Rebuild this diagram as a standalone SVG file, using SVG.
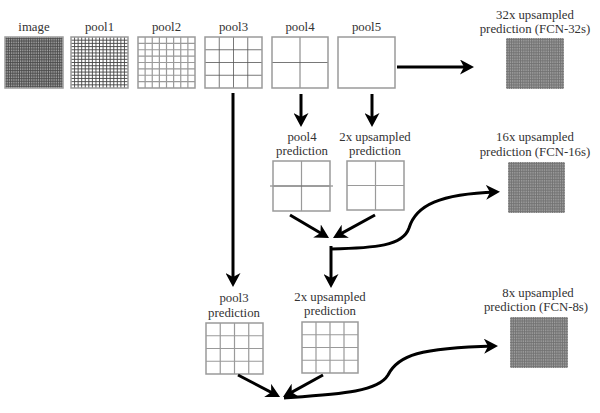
<svg xmlns="http://www.w3.org/2000/svg" xmlns:xlink="http://www.w3.org/1999/xlink" width="600" height="413" viewBox="0 0 600 413">
<style>
text{font-size:12.8px;fill:#333;text-anchor:middle}
.bx{fill:none;stroke:#9a9a9a;stroke-width:1.5}
.gl{fill:none;vector-effect:non-scaling-stroke}
.dense{stroke:#4a4a4a;stroke-width:0.9}
.up{stroke:#707070;stroke-width:0.9}
.dk{stroke:#444;stroke-width:0.9}
.gr{stroke:#9a9a9a;stroke-width:1.2}
.th{stroke:#555;stroke-width:0.8}
.ar{fill:none;stroke:#000;stroke-width:3;marker-end:url(#ah)}
</style>
<defs>
<marker id="ah" markerUnits="userSpaceOnUse" viewBox="0 0 15 15" markerWidth="15" markerHeight="15" refX="10" refY="7.5" orient="auto"><path d="M0,0 L14,7.5 L0,15 L4,7.5 Z" fill="#000"/></marker>
<symbol id="g2" viewBox="0 0 2 2" preserveAspectRatio="none"><path class="gl" d="M1 0V2M0 1H2"/></symbol>
<symbol id="g4" viewBox="0 0 4 4" preserveAspectRatio="none"><path class="gl" d="M1 0V4M2 0V4M3 0V4M0 1H4M0 2H4M0 3H4"/></symbol>
<symbol id="g8" viewBox="0 0 8 8" preserveAspectRatio="none"><path class="gl" d="M1 0V8M2 0V8M3 0V8M4 0V8M5 0V8M6 0V8M7 0V8M0 1H8M0 2H8M0 3H8M0 4H8M0 5H8M0 6H8M0 7H8"/></symbol>
<symbol id="g16" viewBox="0 0 16 16" preserveAspectRatio="none"><path class="gl" d="M1 0V16M2 0V16M3 0V16M4 0V16M5 0V16M6 0V16M7 0V16M8 0V16M9 0V16M10 0V16M11 0V16M12 0V16M13 0V16M14 0V16M15 0V16M0 1H16M0 2H16M0 3H16M0 4H16M0 5H16M0 6H16M0 7H16M0 8H16M0 9H16M0 10H16M0 11H16M0 12H16M0 13H16M0 14H16M0 15H16"/></symbol>
<symbol id="g32" viewBox="0 0 32 32" preserveAspectRatio="none"><path class="gl" d="M1 0V32M2 0V32M3 0V32M4 0V32M5 0V32M6 0V32M7 0V32M8 0V32M9 0V32M10 0V32M11 0V32M12 0V32M13 0V32M14 0V32M15 0V32M16 0V32M17 0V32M18 0V32M19 0V32M20 0V32M21 0V32M22 0V32M23 0V32M24 0V32M25 0V32M26 0V32M27 0V32M28 0V32M29 0V32M30 0V32M31 0V32M0 1H32M0 2H32M0 3H32M0 4H32M0 5H32M0 6H32M0 7H32M0 8H32M0 9H32M0 10H32M0 11H32M0 12H32M0 13H32M0 14H32M0 15H32M0 16H32M0 17H32M0 18H32M0 19H32M0 20H32M0 21H32M0 22H32M0 23H32M0 24H32M0 25H32M0 26H32M0 27H32M0 28H32M0 29H32M0 30H32M0 31H32"/></symbol>
</defs>
<rect width="600" height="413" fill="#fff"/>
<g font-family="'Liberation Serif', 'Times New Roman', 'DejaVu Serif', serif">
<g id="image">
<text x="34" y="31">image</text>
<rect x="5" y="37" width="58" height="51" fill="#e8e8e8"/>
<use xlink:href="#g32" href="#g32" x="5" y="37" width="58" height="51" class="dense"/>
<rect class="bx" x="5" y="37" width="58" height="51"/>
</g>
<g id="pool1">
<text x="99.5" y="31">pool1</text>
<use xlink:href="#g16" href="#g16" x="71" y="37" width="57" height="51" class="dk"/>
<rect class="bx" x="71" y="37" width="57" height="51"/>
</g>
<g id="pool2">
<text x="166.5" y="31">pool2</text>
<use xlink:href="#g8" href="#g8" x="138" y="37" width="57" height="51" class="gr"/>
<rect class="bx" x="138" y="37" width="57" height="51"/>
</g>
<g id="pool3">
<text x="233.5" y="31">pool3</text>
<use xlink:href="#g4" href="#g4" x="205" y="37" width="57" height="51" class="th"/>
<rect class="bx" x="205" y="37" width="57" height="51"/>
</g>
<g id="pool4">
<text x="300" y="31">pool4</text>
<use xlink:href="#g2" href="#g2" x="272" y="37" width="56" height="51" class="th"/>
<rect class="bx" x="272" y="37" width="56" height="51"/>
</g>
<g id="pool5">
<text x="366.5" y="31">pool5</text>
<rect class="bx" x="338" y="37" width="57" height="51"/>
</g>

<g id="up32">
<text x="535" y="19">32x upsampled</text>
<text x="535" y="33">prediction (FCN-32s)</text>
<rect x="506" y="38" width="58" height="51" fill="#c4c4c4"/>
<use xlink:href="#g32" href="#g32" x="506" y="38" width="58" height="51" class="up"/>
</g>

<g id="pool4pred">
<text x="302" y="141">pool4</text>
<text x="302" y="155">prediction</text>
<use xlink:href="#g2" href="#g2" x="273" y="161" width="57" height="50" class="gr"/>
<path d="M270,186 H333" stroke="#555" stroke-width="0.8"/>
<rect class="bx" x="273" y="161" width="57" height="50"/>
</g>
<g id="up2a">
<text x="375" y="141">2x upsampled</text>
<text x="375" y="155">prediction</text>
<use xlink:href="#g2" href="#g2" x="347" y="161" width="57" height="49" class="gr"/>
<rect class="bx" x="347" y="161" width="57" height="49"/>
</g>

<g id="up16">
<text x="535" y="141">16x upsampled</text>
<text x="535" y="156">prediction (FCN-16s)</text>
<rect x="508" y="162" width="57" height="51" fill="#c4c4c4"/>
<use xlink:href="#g32" href="#g32" x="508" y="162" width="57" height="51" class="up"/>
</g>

<g id="pool3pred">
<text x="234" y="302">pool3</text>
<text x="234" y="317">prediction</text>
<use xlink:href="#g4" href="#g4" x="206" y="323" width="57" height="51" class="gr"/>
<rect class="bx" x="206" y="323" width="57" height="51"/>
</g>
<g id="up2b">
<text x="330" y="301">2x upsampled</text>
<text x="330" y="315">prediction</text>
<use xlink:href="#g4" href="#g4" x="302" y="322" width="56" height="51" class="gr"/>
<rect class="bx" x="302" y="322" width="56" height="51"/>
</g>

<g id="up8">
<text x="538" y="297">8x upsampled</text>
<text x="536" y="311">prediction (FCN-8s)</text>
<rect x="510" y="317" width="58" height="51" fill="#c4c4c4"/>
<use xlink:href="#g32" href="#g32" x="510" y="317" width="58" height="51" class="up"/>
</g>
</g>
<g id="connectors">
<path class="ar" d="M397,67 H470"/>
<path class="ar" d="M233,93 V283"/>
<path class="ar" d="M301,94 V123"/>
<path class="ar" d="M372,94 V123"/>
<path class="ar" d="M290,215 L325.6,236"/>
<path class="ar" d="M375,215 L336.5,236.1"/>
<path class="ar" d="M331,246 V284"/>
<path class="ar" d="M331,249 C375,248 403,246 409,228 C416,205 440,194 496,192"/>
<path class="ar" d="M238,375 L276.5,395.1"/>
<path class="ar" d="M323,375 L286.5,395.1"/>
<path class="ar" d="M284,398 C340,394 378,392 388,375 C398,355 420,348 494,346"/>
</g>
</svg>
